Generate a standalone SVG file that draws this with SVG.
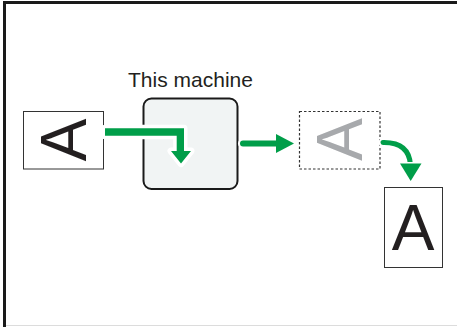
<svg xmlns="http://www.w3.org/2000/svg" width="457" height="327" viewBox="0 0 457 327">
<style>
.page{fill:#fff;stroke:#333;stroke-width:1}
.big{font-family:"Liberation Sans",Arial,sans-serif;font-size:64px;text-anchor:middle}
.lbl{font-family:"Liberation Sans",Arial,sans-serif;font-size:21px;fill:#231f20;text-anchor:middle}
.halo{fill:#fff;stroke:#fff;stroke-linejoin:round;stroke-linecap:round}
.g{fill:#009e49}
.gs{fill:none;stroke:#009e49;stroke-linecap:round}
</style>
<rect width="457" height="327" fill="#fff"/>
<g id="frame">
<line x1="6" y1="325.5" x2="457" y2="325.5" stroke="#dcdcdc" stroke-width="1"/>
<path d="M4.5,327 V2.5 H457" fill="none" stroke="#1a1a1a" stroke-width="3"/>
</g>
<g id="original">
<rect class="page" x="23.5" y="111.5" width="80" height="57.5"/>
<text class="big" fill="#231f20" transform="translate(86,140) rotate(-90)">A</text>
</g>
<g id="machine">
<text class="lbl" x="190.5" y="87">This machine</text>
<rect x="143.5" y="98.5" width="94" height="90.5" rx="8" fill="#f1f4f4" stroke="#1a1a1a" stroke-width="2"/>
</g>
<g id="image">
<rect x="299.5" y="111.5" width="80.5" height="57.5" fill="none" stroke="#333" stroke-width="1.2" stroke-dasharray="2.5,2"/>
<text class="big" fill="#a7a9ac" font-size="63" transform="translate(362,139.5) rotate(-90)">A</text>
</g>
<g id="copy">
<rect class="page" x="384.5" y="187.5" width="58" height="80"/>
<text class="big" fill="#231f20" font-size="63" x="413" y="250">A</text>
</g>
<g id="connectors">
<polygon class="halo" stroke-width="7" points="105,128.3 184,128.3 184,151 191,151 181,163.5 171,151 176.7,151 176.7,135.7 105,135.7"/>
<polygon class="g" points="105,128.3 184,128.3 184,151 191,151 181,163.5 171,151 176.7,151 176.7,135.7 105,135.7"/>
<line x1="243" y1="143.5" x2="278" y2="143.5" stroke="#fff" stroke-width="10" stroke-linecap="round"/>
<line class="gs" x1="243" y1="143.5" x2="278" y2="143.5" stroke-width="6"/>
<polygon class="g" points="276,134 294,143.5 276,153"/>
<path d="M383,142.5 Q409,142 410.5,165" fill="none" stroke="#fff" stroke-width="9" stroke-linecap="round"/>
<path class="gs" d="M383,142.5 Q409,142 410.5,165" stroke-width="5"/>
<polygon class="halo" stroke-width="3" points="400,163.5 421.5,163.5 410.7,181"/>
<polygon class="g" points="400,163.5 421.5,163.5 410.7,181"/>
</g>
</svg>
